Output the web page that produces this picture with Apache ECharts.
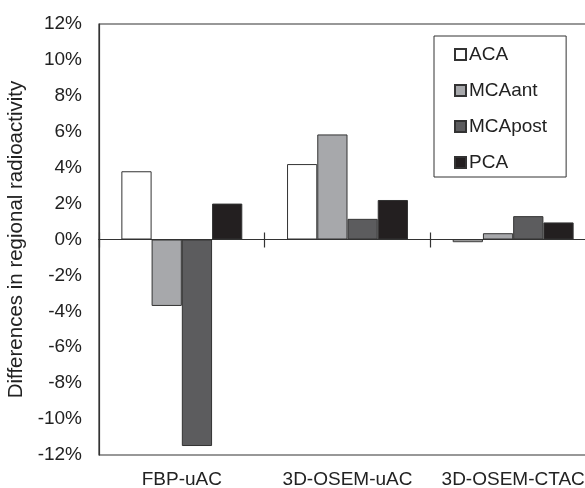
<!DOCTYPE html>
<html><head><meta charset="utf-8">
<script src="https://cdn.jsdelivr.net/npm/echarts@6/dist/echarts.min.js"></script>
<style>html,body{margin:0;padding:0;background:#fff}#c{width:585px;height:488px}</style>
</head><body><div id="c"></div>
<script>
var categories = ['FBP-uAC', '3D-OSEM-uAC', '3D-OSEM-CTAC'];
var seriesNames = ['ACA', 'MCAant', 'MCApost', 'PCA'];
var ACA = [3.8, 4.2, -0.15];
var MCAant = [-3.7, 5.85, 0.35];
var MCApost = [-11.5, 1.15, 1.3];
var PCA = [2.0, 2.2, 0.95];
var yTicks = [-12, -10, -8, -6, -4, -2, 0, 2, 4, 6, 8, 10, 12];
var colors = ['#ffffff', '#a7a8ab', '#5c5c5e', '#231f20'];
var values = [ACA, MCAant, MCApost, PCA];
var font = 'Liberation Sans, Arial, sans-serif';

var chart = echarts.init(document.getElementById('c'));
var series = seriesNames.map(function (n, i) {
  return {
    name: n, type: 'bar', xAxisIndex: 0, yAxisIndex: 0,
    data: values[i], barGap: '0%', barCategoryGap: '27%',
    itemStyle: { color: colors[i], borderColor: '#333', borderWidth: 1 }
  };
});
var gridPos = { left: 99, top: 24, bottom: 33, right: -11, containLabel: false, outerBoundsMode: 'none' };
var lineCol = { color: '#333', width: 1.2 };
var yRange = { type: 'value', min: yTicks[0], max: yTicks[yTicks.length - 1], interval: 2 };
var hiddenY = { axisLine: { show: false }, axisTick: { show: false }, splitLine: { show: false }, axisLabel: { show: false } };
chart.setOption({
  animation: false,
  grid: [
    Object.assign({ show: true, borderColor: '#333', borderWidth: 1.2 }, gridPos),
    Object.assign({ show: false }, gridPos)
  ],
  legend: {
    orient: 'vertical', left: 434, top: 36, width: 133,
    padding: [9, 19, 5, 20], itemGap: 17, itemWidth: 11, itemHeight: 11,
    borderColor: '#333', borderWidth: 1, icon: 'rect',
    textStyle: { fontFamily: font, fontSize: 19, color: '#222', padding: [0, 0, 0, -2] },
    data: seriesNames
  },
  xAxis: [
    { type: 'category', data: categories, gridIndex: 0, position: 'bottom',
      axisLine: { show: true, onZero: true, onZeroAxisIndex: 0, lineStyle: lineCol },
      axisTick: { show: true, length: 8, inside: false, lineStyle: lineCol },
      axisLabel: { show: false } },
    { type: 'category', data: categories, gridIndex: 0, position: 'top',
      axisLine: { show: true, onZero: true, onZeroAxisIndex: 1, lineStyle: lineCol },
      axisTick: { show: true, length: 7, inside: false, lineStyle: lineCol },
      axisLabel: { show: false } },
    { type: 'category', data: categories, gridIndex: 1, position: 'bottom',
      axisLine: { show: false, onZero: false }, axisTick: { show: false },
      axisLabel: { fontFamily: font, fontSize: 19, color: '#222', margin: 15, interval: 0 } }
  ],
  yAxis: [
    Object.assign({}, yRange, {
      gridIndex: 0, position: 'left',
      name: 'Differences in regional radioactivity', nameLocation: 'middle', nameGap: 63,
      nameTextStyle: { fontFamily: font, fontSize: 20.5, color: '#222' },
      axisLine: { show: true, lineStyle: lineCol },
      axisTick: { show: false }, splitLine: { show: false },
      axisLabel: { fontFamily: font, fontSize: 19, color: '#222', margin: 17, formatter: function (v) { return v + '%'; } }
    }),
    Object.assign({}, yRange, hiddenY, { gridIndex: 0, position: 'right' }),
    Object.assign({}, yRange, hiddenY, { gridIndex: 1 })
  ],
  series: series
});
</script></body></html>
